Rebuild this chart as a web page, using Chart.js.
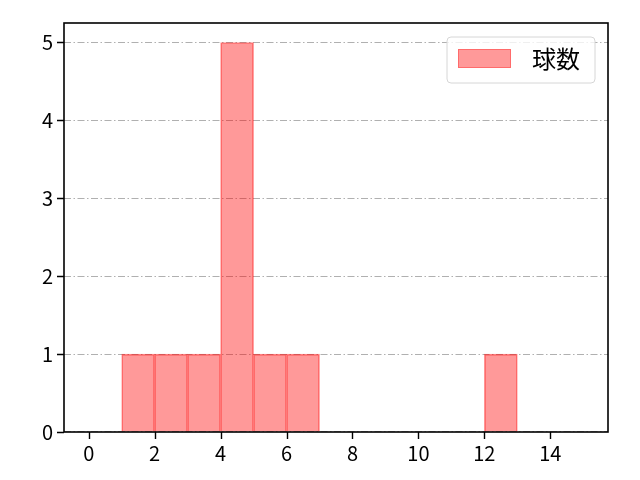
<!DOCTYPE html>
<html lang="ja">
<head>
    <meta charset="UTF-8">
    <title>球数</title>
    <script src="https://cdn.jsdelivr.net/npm/chart.js"></script>
    <style>
        html, body { margin: 0; padding: 0; background: #fff; }
        #wrap { width: 640px; height: 480px; }
    </style>
</head>
<body>
<div id="wrap"><canvas id="histChart"></canvas></div>
<script>
    // histogram bins (left edges, width 1) and counts
    const binStarts = [1, 2, 3, 4, 5, 6, 12];
    const binCounts = [1, 1, 1, 5, 1, 1, 1];
    const xTicks = [0, 2, 4, 6, 8, 10, 12, 14];
    const yTicks = [0, 1, 2, 3, 4, 5];
    const seriesLabel = "球数";

    const FONT = "'Noto Sans CJK JP', 'Noto Sans', sans-serif";

    // black tick marks, full frame and the legend box
    const framePlugin = {
        id: "frame",
        afterDraw(chart) {
            const ctx = chart.ctx;
            const a = chart.chartArea;
            const xs = chart.scales.x, ys = chart.scales.y;
            ctx.save();
            ctx.strokeStyle = "#000";
            ctx.lineWidth = 1.4;
            ctx.beginPath();
            xTicks.forEach(v => {
                const px = Math.round(xs.getPixelForValue(v)) + 0.5;
                ctx.moveTo(px, a.bottom);
                ctx.lineTo(px, a.bottom + 7);
            });
            yTicks.forEach(v => {
                const py = Math.round(ys.getPixelForValue(v)) + 0.5;
                ctx.moveTo(a.left, py);
                ctx.lineTo(a.left - 7, py);
            });
            ctx.stroke();
            ctx.lineWidth = 1.6;
            ctx.strokeRect(a.left, a.top, a.right - a.left, a.bottom - a.top);

            // legend
            const bx = 447, by = 37, bw = 148, bh = 46, r = 4;
            ctx.beginPath();
            ctx.roundRect(bx, by, bw, bh, r);
            ctx.fillStyle = "rgba(255,255,255,0.8)";
            ctx.fill();
            ctx.strokeStyle = "#d6d6d6";
            ctx.lineWidth = 1;
            ctx.stroke();
            ctx.fillStyle = "rgba(255,0,0,0.4)";
            ctx.fillRect(458, 49, 53, 19);
            ctx.strokeStyle = "rgba(255,0,0,0.3)";
            ctx.strokeRect(458.5, 49.5, 52, 18);
            ctx.fillStyle = "#000";
            ctx.font = "24px " + FONT;
            ctx.textBaseline = "middle";
            ctx.textAlign = "left";
            ctx.fillText(chart.data.datasets[0].label, 532, 59);
            ctx.restore();
        }
    };

    new Chart(document.getElementById("histChart"), {
        type: "bar",
        data: {
            datasets: [{
                label: seriesLabel,
                data: binStarts.map((s, i) => ({ x: s + 0.5, y: binCounts[i] })),
                backgroundColor: "rgba(255,0,0,0.4)",
                borderColor: "rgba(255,0,0,0.45)",
                borderWidth: 1,
                barPercentage: 1,
                categoryPercentage: 1
            }]
        },
        options: {
            responsive: true,
            maintainAspectRatio: false,
            animation: false,
            layout: { padding: { top: 23, right: 32, left: 0, bottom: 0 } },
            plugins: { legend: { display: false }, tooltip: { enabled: false } },
            scales: {
                x: {
                    type: "linear",
                    offset: false,
                    min: -0.75,
                    max: 15.75,
                    afterBuildTicks: s => { s.ticks = xTicks.map(v => ({ value: v })); },
                    afterFit: s => { s.height = 48; },
                    grid: { display: false, drawTicks: false },
                    border: { display: false },
                    ticks: { color: "#000", font: { family: FONT, size: 20 }, padding: 9, maxRotation: 0 }
                },
                y: {
                    min: 0,
                    max: 5.25,
                    afterBuildTicks: s => { s.ticks = yTicks.map(v => ({ value: v })); },
                    afterFit: s => { s.width = 64; },
                    z: 1,
                    grid: {
                        color: "#b0b0b0",
                        lineWidth: 1.1,
                        drawTicks: false
                    },
                    border: { display: false, dash: [7, 2.5, 1.5, 2.5] },
                    ticks: { color: "#000", font: { family: FONT, size: 20 }, padding: 11 }
                }
            }
        },
        plugins: [framePlugin]
    });
</script>
</body>
</html>
